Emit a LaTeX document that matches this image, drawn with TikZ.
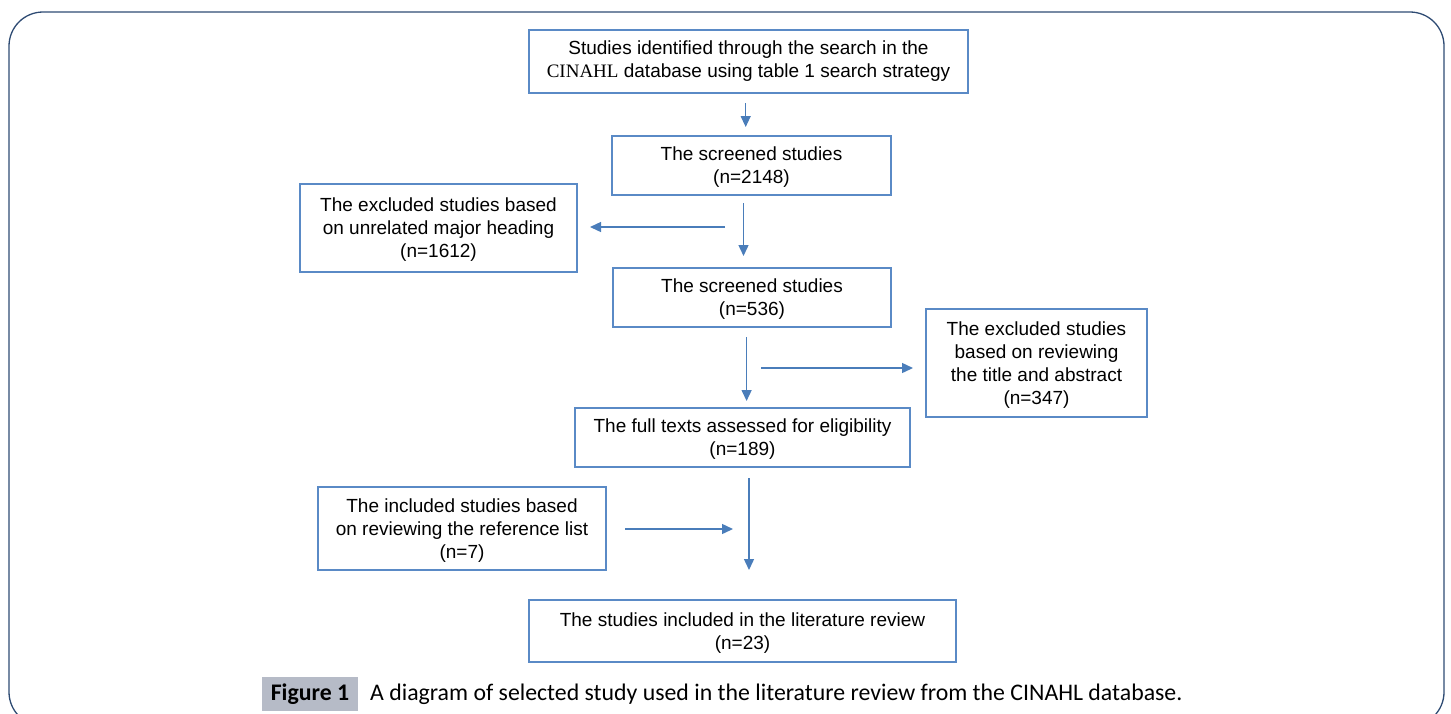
\documentclass[tikz,border=0pt]{standalone}
\usepackage{fontspec}
\setmainfont{Liberation Sans}
\newfontfamily\timesfont{Liberation Serif}
\newfontfamily\capfont{Carlito}
\usetikzlibrary{arrows.meta}
\definecolor{boxblue}{HTML}{5A8AC6}
\definecolor{arrblue}{HTML}{4A7DBA}
\definecolor{framenavy}{HTML}{2E4B73}
\definecolor{figgray}{HTML}{B6BBC7}
\newcommand{\toplift}{\rule{0pt}{17.5pt}}
\tikzset{
  flowbox/.style={draw=boxblue, line width=1.8pt, align=center, inner sep=0pt,
    font=\fontsize{19}{23}\selectfont, text=black},
  arr/.style={draw=arrblue, line width=1.4pt, -{Triangle[length=11pt,width=10pt]}},
}
\begin{document}
\begin{tikzpicture}[x=1pt,y=-1pt]
\useasboundingbox (0,0) rectangle (1451,713);
\begin{scope}
\clip (0,0) rectangle (1451,713);
\draw[framenavy, line width=1.3pt, rounded corners=34pt] (9,12) rectangle (1444,726);
\end{scope}

\node[flowbox, minimum width=439pt, minimum height=63pt] (b1) at (748.5,61.5)
  {Studies identified through the search in the\\{\timesfont CINAHL} database using table 1 search strategy};
\node[flowbox, minimum width=279pt, minimum height=59pt] (b2) at (751.5,165.5)
  {\toplift The screened studies\\(n=2148)};
\node[flowbox, minimum width=277pt, minimum height=88pt] (b3) at (438.5,228)
  {\toplift The excluded studies based\\on unrelated major heading\\(n=1612)};
\node[flowbox, minimum width=278pt, minimum height=59pt] (b4) at (752,297.5)
  {\toplift The screened studies\\(n=536)};
\node[flowbox, minimum width=221pt, minimum height=108pt] (b5) at (1036.5,363)
  {\toplift The excluded studies\\based on reviewing\\the title and abstract\\(n=347)};
\node[flowbox, minimum width=335pt, minimum height=59pt] (b6) at (742.5,437.5)
  {\toplift The full texts assessed for eligibility\\(n=189)};
\node[flowbox, minimum width=288pt, minimum height=83pt] (b7) at (462,528.5)
  {\toplift The included studies based\\on reviewing the reference list\\(n=7)};
\node[flowbox, minimum width=427pt, minimum height=62pt] (b8) at (742.5,631)
  {\toplift The studies included in the literature review\\(n=23)};

\coordinate (a1s) at (745.7,103); \coordinate (a1e) at (745.7,127);
\coordinate (a2s) at (743.5,203); \coordinate (a2e) at (743.5,256);
\coordinate (a3s) at (725,227);   \coordinate (a3e) at (590,227);
\coordinate (a4s) at (746.6,337); \coordinate (a4e) at (746.6,401);
\coordinate (a5s) at (761,368);   \coordinate (a5e) at (913,368);
\coordinate (a6s) at (749,478);   \coordinate (a6e) at (749,570);
\coordinate (a7s) at (625,529);   \coordinate (a7e) at (733,529);
\draw[arr] (a1s) -- (a1e);
\draw[arr] (a2s) -- (a2e);
\draw[arr] (a3s) -- (a3e);
\draw[arr] (a4s) -- (a4e);
\draw[arr] (a5s) -- (a5e);
\draw[arr] (a6s) -- (a6e);
\draw[arr] (a7s) -- (a7e);

\node[fill=figgray, minimum width=96pt, minimum height=34pt, inner sep=0pt,
  font=\capfont\bfseries\fontsize{23.8}{28}\selectfont] (figlab) at (310,694) {Figure 1};
\node[anchor=base west, inner sep=0pt, font=\capfont\fontsize{23.8}{28}\selectfont] (cap) at (370,700)
  {A diagram of selected study used in the literature review from the CINAHL database.};
\end{tikzpicture}
\end{document}
